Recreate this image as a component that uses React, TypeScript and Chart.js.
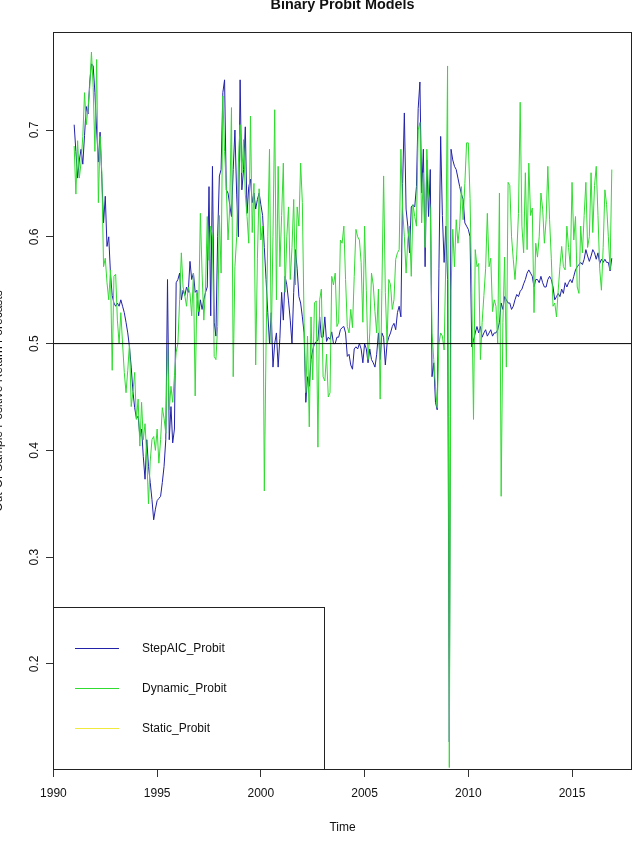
import { useEffect, useRef } from "react";
import { Chart, registerables } from "chart.js";

Chart.register(...registerables);

// Monthly out-of-sample forecasts, January 1991 to December 2016 (one row per year).
const firstYear = 1991;

const stepAicProbit: number[] = [
  0.705, 0.680, 0.655, 0.672, 0.682, 0.668, 0.695, 0.722, 0.715, 0.745, 0.762, 0.760,
  0.735, 0.700, 0.670, 0.698, 0.655, 0.613, 0.638, 0.591, 0.600, 0.566, 0.545, 0.538,
  0.535, 0.538, 0.535, 0.541, 0.535, 0.529, 0.520, 0.510, 0.497, 0.478, 0.455, 0.440,
  0.430, 0.432, 0.413, 0.420, 0.394, 0.373, 0.410, 0.385, 0.370, 0.354, 0.335, 0.345,
  0.353, 0.355, 0.357, 0.370, 0.385, 0.410, 0.560, 0.410, 0.441, 0.407, 0.420, 0.557,
  0.560, 0.566, 0.541, 0.550, 0.545, 0.553, 0.548, 0.577, 0.560, 0.566, 0.548, 0.550,
  0.526, 0.541, 0.532, 0.541, 0.548, 0.553, 0.647, 0.526, 0.666, 0.520, 0.507, 0.600,
  0.657, 0.663, 0.735, 0.747, 0.644, 0.641, 0.630, 0.619, 0.663, 0.700, 0.640, 0.600,
  0.747, 0.644, 0.663, 0.703, 0.622, 0.647, 0.654, 0.632, 0.641, 0.626, 0.635, 0.641,
  0.630, 0.620, 0.590, 0.560, 0.529, 0.500, 0.529, 0.478, 0.500, 0.510, 0.478, 0.505,
  0.548, 0.522, 0.563, 0.555, 0.540, 0.522, 0.500, 0.548, 0.588, 0.570, 0.544, 0.538,
  0.525, 0.510, 0.445, 0.469, 0.460, 0.485, 0.494, 0.500, 0.502, 0.503, 0.525, 0.506,
  0.506, 0.525, 0.502, 0.506, 0.504, 0.511, 0.500, 0.500, 0.506, 0.506, 0.513, 0.515,
  0.516, 0.510, 0.488, 0.490, 0.480, 0.476, 0.495, 0.497, 0.495, 0.500, 0.495, 0.482,
  0.500, 0.495, 0.482, 0.495, 0.485, 0.482, 0.478, 0.490, 0.510, 0.485, 0.510, 0.506,
  0.480, 0.500, 0.506, 0.510, 0.516, 0.519, 0.513, 0.529, 0.535, 0.525, 0.650, 0.716,
  0.626, 0.610, 0.585, 0.628, 0.630, 0.628, 0.647, 0.720, 0.745, 0.641, 0.682, 0.572,
  0.672, 0.619, 0.663, 0.469, 0.482, 0.445, 0.438, 0.570, 0.694, 0.620, 0.576, 0.610,
  0.560, 0.127, 0.682, 0.672, 0.666, 0.663, 0.655, 0.647, 0.640, 0.635, 0.613, 0.610,
  0.607, 0.600, 0.497, 0.503, 0.510, 0.516, 0.510, 0.516, 0.506, 0.510, 0.513, 0.507,
  0.510, 0.513, 0.507, 0.510, 0.510, 0.513, 0.520, 0.538, 0.532, 0.544, 0.541, 0.538,
  0.538, 0.532, 0.535, 0.541, 0.546, 0.544, 0.549, 0.551, 0.556, 0.560, 0.566, 0.569,
  0.566, 0.563, 0.553, 0.560, 0.560, 0.557, 0.563, 0.557, 0.553, 0.553, 0.560, 0.563,
  0.560, 0.553, 0.541, 0.544, 0.547, 0.544, 0.551, 0.547, 0.557, 0.553, 0.557, 0.560,
  0.557, 0.563, 0.569, 0.572, 0.574, 0.576, 0.574, 0.579, 0.588, 0.582, 0.577, 0.582,
  0.588, 0.585, 0.579, 0.585, 0.575, 0.579, 0.576, 0.579, 0.576, 0.576, 0.568, 0.580,
];

const dynamicProbit: number[] = [
  0.685, 0.640, 0.690, 0.655, 0.670, 0.694, 0.735, 0.705, 0.720, 0.740, 0.773, 0.740,
  0.680, 0.766, 0.632, 0.694, 0.660, 0.572, 0.580, 0.557, 0.541, 0.569, 0.475, 0.563,
  0.565, 0.522, 0.500, 0.529, 0.500, 0.473, 0.454, 0.475, 0.500, 0.441, 0.455, 0.473,
  0.429, 0.448, 0.404, 0.445, 0.410, 0.425, 0.394, 0.350, 0.390, 0.410, 0.413, 0.400,
  0.420, 0.388, 0.410, 0.440, 0.430, 0.416, 0.500, 0.438, 0.460, 0.445, 0.470, 0.492,
  0.500, 0.541, 0.585, 0.553, 0.545, 0.535, 0.553, 0.547, 0.526, 0.566, 0.451, 0.547,
  0.530, 0.622, 0.566, 0.522, 0.553, 0.619, 0.578, 0.610, 0.600, 0.488, 0.485, 0.516,
  0.620, 0.566, 0.732, 0.680, 0.647, 0.597, 0.628, 0.721, 0.469, 0.572, 0.600, 0.670,
  0.705, 0.660, 0.691, 0.640, 0.619, 0.594, 0.713, 0.604, 0.650, 0.480, 0.580, 0.645,
  0.597, 0.610, 0.362, 0.500, 0.600, 0.682, 0.500, 0.600, 0.719, 0.541, 0.666, 0.572,
  0.620, 0.669, 0.548, 0.600, 0.628, 0.560, 0.590, 0.635, 0.555, 0.628, 0.610, 0.669,
  0.632, 0.520, 0.454, 0.507, 0.422, 0.525, 0.466, 0.538, 0.540, 0.403, 0.541, 0.551,
  0.469, 0.465, 0.490, 0.450, 0.454, 0.563, 0.555, 0.566, 0.516, 0.520, 0.597, 0.594,
  0.610, 0.560, 0.516, 0.510, 0.532, 0.515, 0.563, 0.607, 0.600, 0.597, 0.576, 0.520,
  0.610, 0.550, 0.485, 0.510, 0.566, 0.555, 0.530, 0.510, 0.551, 0.448, 0.550, 0.657,
  0.548, 0.500, 0.560, 0.555, 0.532, 0.541, 0.579, 0.585, 0.588, 0.682, 0.626, 0.600,
  0.566, 0.597, 0.610, 0.563, 0.630, 0.619, 0.610, 0.700, 0.707, 0.613, 0.660, 0.590,
  0.682, 0.640, 0.626, 0.510, 0.485, 0.460, 0.440, 0.500, 0.510, 0.507, 0.494, 0.579,
  0.760, 0.103, 0.550, 0.607, 0.572, 0.616, 0.594, 0.610, 0.647, 0.616, 0.650, 0.688,
  0.688, 0.636, 0.548, 0.429, 0.588, 0.572, 0.575, 0.485, 0.520, 0.545, 0.570, 0.622,
  0.572, 0.580, 0.530, 0.541, 0.535, 0.500, 0.641, 0.357, 0.520, 0.581, 0.478, 0.651,
  0.648, 0.600, 0.579, 0.560, 0.583, 0.622, 0.726, 0.610, 0.585, 0.660, 0.588, 0.669,
  0.620, 0.627, 0.529, 0.594, 0.581, 0.600, 0.641, 0.626, 0.594, 0.616, 0.666, 0.616,
  0.580, 0.535, 0.538, 0.525, 0.550, 0.572, 0.591, 0.572, 0.569, 0.610, 0.590, 0.572,
  0.651, 0.597, 0.619, 0.553, 0.547, 0.610, 0.585, 0.620, 0.651, 0.590, 0.600, 0.660,
  0.604, 0.648, 0.666, 0.620, 0.570, 0.550, 0.590, 0.644, 0.630, 0.600, 0.569, 0.663,
];

// The static model has no forecasts in the plotted window; it only appears in the key.
const staticProbit: number[] = [];

const seriesNames = ["StepAIC_Probit", "Dynamic_Probit", "Static_Probit"];
const seriesColors = ["#2222a8", "#30dc30", "#f0ea3c"];
const xTicks = [1990, 1995, 2000, 2005, 2010, 2015];
const yTicks = [0.2, 0.3, 0.4, 0.5, 0.6, 0.7];
const threshold = 0.5;

const chartTitle = "Binary Probit Models";
const xTitle = "Time";
const yTitle = "Out-Of-Sample Positive Return Forecasts";

const FONT = '"Liberation Sans", Arial, Helvetica, sans-serif';

const toPoints = (values: number[]) =>
  values.map((v, i) => ({ x: firstYear + i / 12, y: v }));

// Draws the R-style frame: box, reference line, rotated tick labels, titles and key.
const baseGraphics = {
  id: "baseGraphics",
  afterDatasetsDraw(chart: any) {
    const { ctx, chartArea: a, scales } = chart;
    const y = scales.y;
    ctx.save();
    ctx.strokeStyle = "#000";
    ctx.lineWidth = 1;
    const ty = y.getPixelForValue(threshold);
    ctx.beginPath();
    ctx.moveTo(a.left, ty);
    ctx.lineTo(a.right, ty);
    ctx.stroke();
    ctx.restore();
  },
  afterDraw(chart: any) {
    const { ctx, chartArea: a, scales } = chart;
    const x = scales.x;
    const y = scales.y;
    const left = Math.round(a.left) + 0.5;
    const right = Math.round(a.right) - 0.5;
    const top = Math.round(a.top) + 0.5;
    const bottom = Math.round(a.bottom) - 0.5;
    const midX = (a.left + a.right) / 2;
    const midY = (a.top + a.bottom) / 2;

    ctx.save();
    ctx.strokeStyle = "#222";
    ctx.lineWidth = 1;
    ctx.strokeRect(left, top, right - left, bottom - top);

    ctx.fillStyle = "#111";
    ctx.textAlign = "center";
    ctx.textBaseline = "alphabetic";

    // x tick labels
    ctx.font = `12px ${FONT}`;
    for (const v of xTicks) {
      ctx.fillText(String(v), x.getPixelForValue(v), a.bottom + 27);
    }
    // y tick labels, parallel to the axis
    for (const v of yTicks) {
      ctx.save();
      ctx.translate(a.left - 15, y.getPixelForValue(v));
      ctx.rotate(-Math.PI / 2);
      ctx.fillText(v.toFixed(1), 0, 0);
      ctx.restore();
    }
    // axis titles
    ctx.fillText(xTitle, midX, a.bottom + 61);
    ctx.save();
    ctx.translate(1.5, midY);
    ctx.rotate(-Math.PI / 2);
    ctx.fillText(yTitle, 0, 0);
    ctx.restore();

    // main title
    ctx.font = `bold 14.4px ${FONT}`;
    ctx.fillText(chartTitle, midX, 9);

    // key in the bottom-left corner
    const boxRight = left + 271;
    const boxTop = bottom - 162;
    ctx.fillStyle = "#fff";
    ctx.fillRect(left, boxTop, boxRight - left, bottom - boxTop);
    ctx.strokeStyle = "#222";
    ctx.strokeRect(left, boxTop, boxRight - left, bottom - boxTop);
    ctx.font = `12px ${FONT}`;
    ctx.textAlign = "left";
    ctx.textBaseline = "middle";
    chart.data.datasets.forEach((ds: any, i: number) => {
      const ry = boxTop + 41 + i * 40;
      ctx.strokeStyle = ds.borderColor;
      ctx.lineWidth = 1;
      ctx.beginPath();
      ctx.moveTo(a.left + 22, ry);
      ctx.lineTo(a.left + 66, ry);
      ctx.stroke();
      ctx.fillStyle = "#111";
      ctx.fillText(ds.label, a.left + 89, ry);
    });
    ctx.restore();
  },
};

export default function App() {
  const canvasRef = useRef<HTMLCanvasElement | null>(null);

  useEffect(() => {
    const canvas = canvasRef.current;
    if (!canvas) return;
    const series = [stepAicProbit, dynamicProbit, staticProbit];
    const chart = new Chart(canvas, {
      type: "line",
      data: {
        datasets: series.map((values, i) => ({
          label: seriesNames[i],
          data: toPoints(values),
          borderColor: seriesColors[i],
          backgroundColor: seriesColors[i],
          borderWidth: 1,
          pointRadius: 0,
          tension: 0,
          fill: false,
          order: 3 - i,
        })),
      },
      options: {
        responsive: false,
        animation: false,
        events: [],
        layout: { padding: { left: 0, right: 1, top: 32, bottom: 0 } },
        plugins: {
          legend: { display: false },
          title: { display: false },
          tooltip: { enabled: false },
        },
        scales: {
          x: {
            type: "linear",
            min: 1989.98,
            max: 2017.89,
            afterFit: (s: any) => {
              s.height = 71;
            },
            afterBuildTicks: (s: any) => {
              s.ticks = xTicks.map((value) => ({ value }));
            },
            ticks: { display: false },
            grid: { drawOnChartArea: false, drawTicks: true, tickLength: 7, color: "#333", lineWidth: 1 },
            border: { display: false },
          },
          y: {
            type: "linear",
            min: 0.1007,
            max: 0.7918,
            afterFit: (s: any) => {
              s.width = 53;
            },
            afterBuildTicks: (s: any) => {
              s.ticks = yTicks.map((value) => ({ value }));
            },
            ticks: { display: false },
            grid: { drawOnChartArea: false, drawTicks: true, tickLength: 7, color: "#333", lineWidth: 1 },
            border: { display: false },
          },
        },
      } as any,
      plugins: [baseGraphics],
    });
    return () => chart.destroy();
  }, []);

  return (
    <div style={{ position: "absolute", left: 0, top: 0, width: 633, height: 841, background: "#fff" }}>
      <canvas ref={canvasRef} width={633} height={841} style={{ display: "block" }} />
    </div>
  );
}
